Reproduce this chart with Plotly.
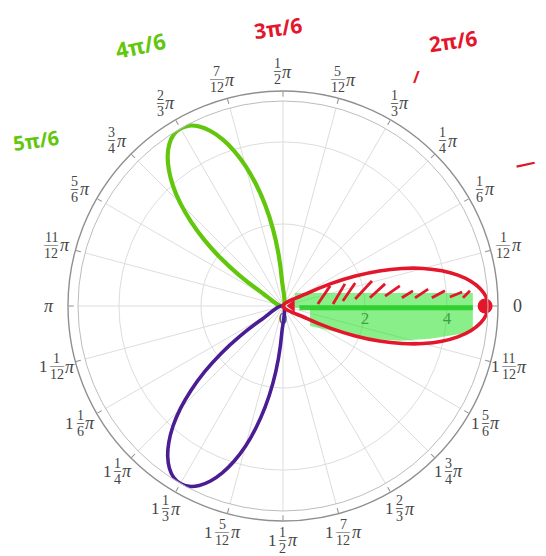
import numpy as np
import plotly.graph_objects as go

# ---------------- data ----------------
# rose petal profile: offset from the petal axis (degrees) and radius
petal_offset_deg = [-30, -27.5, -25, -22.5, -20, -17.5, -15, -12.5, -10, -7.5, -5, -2.5, 0,
                    2.5, 5, 7.5, 10, 12.5, 15, 17.5, 20, 22.5, 25, 27.5, 30]
petal_r = [0, 0.65, 1.29, 1.91, 2.5, 3.04, 3.54, 3.97, 4.33, 4.62, 4.83, 4.96, 5.0,
           4.96, 4.83, 4.62, 4.33, 3.97, 3.54, 3.04, 2.5, 1.91, 1.29, 0.65, 0]
petal_axes_deg = [0, 120, 240]

# angular ticks
tick_deg = list(range(0, 360, 15))
tick_labels = ["0", "1/12π", "1/6π", "1/4π", "1/3π", "5/12π", "1/2π", "7/12π", "2/3π",
               "3/4π", "5/6π", "11/12π", "π", "1 1/12π", "1 1/6π", "1 1/4π", "1 1/3π",
               "1 5/12π", "1 1/2π", "1 7/12π", "1 2/3π", "1 3/4π", "1 5/6π", "1 11/12π"]
# radial ticks
radial_ticks = [0, 2, 4]
radial_labels = ["0", "2", "4"]

# hand-drawn green highlight (x, y in radial units)
hl_x = [0.29, 4.63, 4.63, 4.32, 3.59, 2.85, 2.12, 1.51, 0.90, 0.66, 0.66, 0.29]
hl_y = [0.32, 0.32, -0.56, -0.68, -0.80, -0.85, -0.80, -0.68, -0.54, -0.49, -0.05, -0.05]
hl_line_x = [0.40, 4.63]
hl_line_y = [-0.04, -0.04]

# hand-drawn red hatching strokes (x, y in radial units)
hatch_x = [0.85, 1.15, None, 1.22, 1.51, None, 1.46, 1.76, None, 1.76, 2.17, None,
           2.12, 2.49, None, 2.49, 2.85, None, 2.90, 3.17, None, 3.22, 3.54, None,
           3.63, 3.95, None, 4.07, 4.37, None, 4.39, 4.56]
hatch_y = [0.05, 0.49, None, 0.05, 0.54, None, 0.12, 0.56, None, 0.17, 0.61, None,
           0.20, 0.54, None, 0.24, 0.49, None, 0.20, 0.37, None, 0.20, 0.41, None,
           0.20, 0.37, None, 0.22, 0.34, None, 0.20, 0.37]

# marks at the tip and at the origin
tip_r, tip_theta = [4.93], [0]
arrow_r, arrow_theta = [0.22], [1]

# handwritten notes
notes = ["3π/6", "2π/6", "4π/6", "5π/6", "/", "—"]

# ---------------- helpers ----------------
def to_polar(xs, ys):
    r, th = [], []
    for x, y in zip(xs, ys):
        if x is None:
            r.append(None); th.append(None)
        else:
            r.append(float(np.hypot(x, y)))
            th.append(float(np.degrees(np.arctan2(y, x))))
    return r, th

def petal(axis):
    return [axis + o for o in petal_offset_deg], list(petal_r)

BLUE = "#5e81b5"
GREEN = "#62c70c"
PURPLE = "#4a1d94"
RED = "#e4162b"

fig = go.Figure()

# dummy trace so the frame subplot renders
fig.add_trace(go.Scatterpolar(r=[None], theta=[None], subplot="polar", showlegend=False,
                              hoverinfo="skip"))

# blue original curve
bt, br = [], []
for a in petal_axes_deg:
    t, r = petal(a)
    bt += t + [None]
    br += r + [None]
fig.add_trace(go.Scatterpolar(r=br, theta=bt, mode="lines", subplot="polar2",
                              line=dict(color=BLUE, width=1.4, shape="spline"),
                              showlegend=False))

# green highlight
r, t = to_polar(hl_x, hl_y)
fig.add_trace(go.Scatterpolar(r=r, theta=t, mode="lines", fill="toself", subplot="polar2",
                              fillcolor="rgba(40,225,40,0.55)", line=dict(width=0),
                              showlegend=False))
r, t = to_polar(hl_line_x, hl_line_y)
fig.add_trace(go.Scatterpolar(r=r, theta=t, mode="lines", subplot="polar2",
                              line=dict(color="rgba(40,205,40,0.9)", width=5),
                              showlegend=False))

# red hatching
r, t = to_polar(hatch_x, hatch_y)
fig.add_trace(go.Scatterpolar(r=r, theta=t, mode="lines", subplot="polar2",
                              line=dict(color=RED, width=2.8), showlegend=False))

# hand-drawn petal strokes
for a, col, w in [(120, GREEN, 4.2), (240, PURPLE, 3.6), (0, RED, 3.6)]:
    t, r = petal(a)
    fig.add_trace(go.Scatterpolar(r=r, theta=t, mode="lines", subplot="polar2",
                                  line=dict(color=col, width=w, shape="spline"),
                                  showlegend=False))

fig.add_trace(go.Scatterpolar(r=tip_r, theta=tip_theta, mode="markers", subplot="polar2",
                              marker=dict(color=RED, size=15), showlegend=False))
fig.add_trace(go.Scatterpolar(r=arrow_r, theta=arrow_theta, mode="markers", subplot="polar2",
                              marker=dict(color=RED, size=11, symbol="triangle-left"),
                              showlegend=False))

# ---------------- layout ----------------
# the page body has an 8px margin, so the figure starts 8px in from the window edge
W, H = 538, 548
ML, MR, MT, MB = 60, 48, 83, 35
PA = W - ML - MR  # 430 plot area square
inner = 10 / PA

fig.update_layout(
    width=W, height=H,
    margin=dict(l=ML, r=MR, t=MT, b=MB),
    paper_bgcolor="white", plot_bgcolor="white",
    showlegend=False,
    polar=dict(
        domain=dict(x=[0, 1], y=[0, 1]),
        bgcolor="rgba(0,0,0,0)",
        radialaxis=dict(visible=False, range=[0, 1]),
        angularaxis=dict(showline=True, linecolor="#8f8f8f", linewidth=1.4,
                         ticks="inside", ticklen=5, tickcolor="#8f8f8f", tickwidth=1,
                         tickmode="array", tickvals=tick_deg, showticklabels=False,
                         showgrid=False),
    ),
    polar2=dict(
        domain=dict(x=[inner, 1 - inner], y=[inner, 1 - inner]),
        bgcolor="rgba(0,0,0,0)",
        radialaxis=dict(range=[0, 5], tickmode="array", tickvals=radial_ticks,
                        ticktext=radial_labels, angle=0, side="clockwise",
                        showline=False, ticks="", gridcolor="#dddddd", gridwidth=1,
                        tickfont=dict(family="Liberation Serif", size=17, color="#555555"),
                        layer="below traces"),
        angularaxis=dict(showline=True, linecolor="#bdbdbd", linewidth=1,
                         tickmode="array", tickvals=tick_deg, showticklabels=False,
                         ticks="", showgrid=True, gridcolor="#dddddd", gridwidth=1),
    ),
)

# angular tick labels (stacked fractions) as annotations around the frame
LAB_R = 234 / PA
F_DIG, F_PI, F_WH = 14, 18, 17
TXT = "#454545"
ann = []
for deg, lab in zip(tick_deg, tick_labels):
    ax = 0.5 + LAB_R * np.cos(np.radians(deg))
    ay = 0.5 + LAB_R * np.sin(np.radians(deg))
    base = dict(x=ax, y=ay, xref="paper", yref="paper", showarrow=False,
                xanchor="center", yanchor="middle")
    if lab in ("0", "π"):
        ann.append(dict(base, text=lab, font=dict(family="Liberation Serif", size=F_WH + 1,
                                                  color=TXT,
                                                  style="italic" if lab == "π" else "normal")))
        continue
    body = lab[:-1]
    parts = body.split(" ")
    whole = parts[0] if len(parts) == 2 else None
    num, den = parts[-1].split("/")
    w_wh = 0.5 * F_WH if whole else 0
    g1 = 2.5 if whole else 0
    w_f = 0.5 * F_DIG * max(len(num), len(den))
    g2 = 1.5
    w_pi = 0.55 * F_PI
    tot = w_wh + g1 + w_f + g2 + w_pi
    left = -tot / 2
    if whole:
        ann.append(dict(base, text=whole, xshift=left + w_wh / 2, yshift=0,
                        font=dict(family="Liberation Serif", size=F_WH, color=TXT)))
    fc = left + w_wh + g1 + w_f / 2
    ann.append(dict(base, text=num, xshift=fc, yshift=8,
                    font=dict(family="Liberation Serif", size=F_DIG, color=TXT)))
    ann.append(dict(base, text=den, xshift=fc, yshift=-8,
                    font=dict(family="Liberation Serif", size=F_DIG, color=TXT)))
    ann.append(dict(base, text="—" if max(len(num), len(den)) > 1 else "–", xshift=fc,
                    yshift=1, font=dict(family="Liberation Serif", size=F_DIG, color=TXT)))
    ann.append(dict(base, text="π", xshift=left + w_wh + g1 + w_f + g2 + w_pi / 2, yshift=0,
                    font=dict(family="Liberation Serif", size=F_PI, color=TXT,
                              style="italic")))

# handwritten notes (window pixel positions converted to paper coordinates)
def paper(px, py):
    return (px - 8 - ML) / PA, (H + 8 - MB - py) / PA

note_pos = [(paper(278, 28), RED, 21, -8),
            (paper(453, 41), RED, 21, -8),
            (paper(140, 45), GREEN, 22, -12),
            (paper(36, 140), GREEN, 20, -8),
            (paper(416, 77), RED, 16, 0),
            (paper(525, 162), RED, 20, -12)]
for txt, ((nx, ny), col, fs, ang) in zip(notes, note_pos):
    ann.append(dict(x=nx, y=ny, xref="paper", yref="paper", showarrow=False, text=txt,
                    textangle=ang, xanchor="center", yanchor="middle",
                    font=dict(family="Noto Sans", size=fs, color=col, weight="bold")))

fig.update_layout(annotations=ann)
fig.write_html("out.html")
